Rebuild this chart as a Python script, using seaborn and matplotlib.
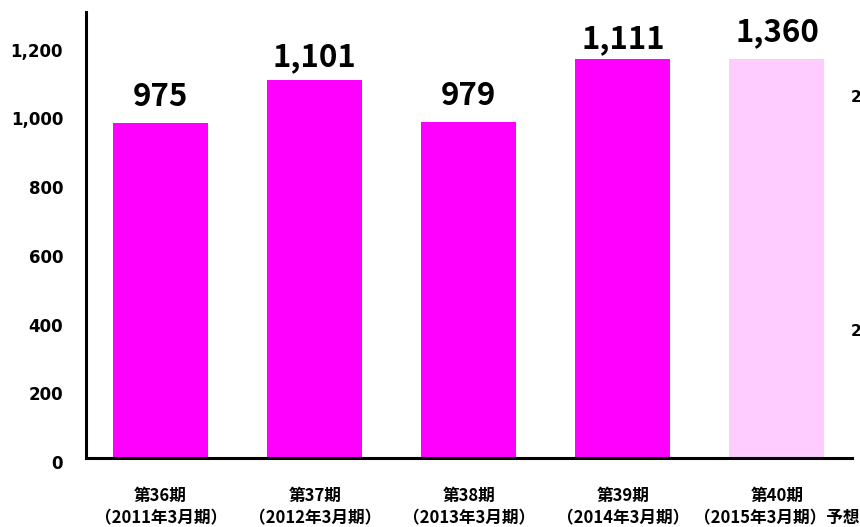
import matplotlib
matplotlib.use("Agg")
import matplotlib.pyplot as plt
import matplotlib.transforms as mtransforms
import seaborn as sns
import pandas as pd

# ---- data ----
periods = ["第36期", "第37期", "第38期", "第39期", "第40期"]
fiscal = ["（2011年3月期）", "（2012年3月期）", "（2013年3月期）", "（2014年3月期）", "（2015年3月期）予想"]
label_values = [975, 1101, 979, 1111, 1360]
bar_heights = [975, 1101, 979, 1161, 1161]   # heights as drawn in the picture
y_ticks = [0, 200, 400, 600, 800, 1000, 1200]

colors = ["#FF00FF", "#FF00FF", "#FF00FF", "#FF00FF", "#FFCCFF"]
label_offsets_px = [10, 7, 10, 4, 11]

sns.set_theme(style="white")
plt.rcParams["font.family"] = ["Noto Sans CJK JP", "DejaVu Sans"]

cats = [p + "\n" + f for p, f in zip(periods, fiscal)]
df = pd.DataFrame({"cat": cats, "h": bar_heights})

fig = plt.figure(figsize=(8.6, 5.27), dpi=100)
ax = fig.add_axes([86/860, 69/527, (852-86)/860, (458-12)/527])

sns.barplot(data=df, x="cat", y="h", hue="cat", palette=colors, legend=False,
            width=0.617, saturation=1, ax=ax, linewidth=0)

ax.set_xlim(-0.484, 4.487)
ax.set_ylim(0, 1298)
ax.set_xlabel("")
ax.set_ylabel("")

# value labels
for i, (h, v) in enumerate(zip(bar_heights, label_values)):
    ax.annotate(f"{v:,}", xy=(i, h), xytext=(0, label_offsets_px[i] * 72 / 100),
                textcoords="offset points", ha="center", va="bottom",
                fontsize=22.5, fontweight="bold", family="Noto Sans CJK JP",
                color="black")

# axes styling
for s in ["top", "right"]:
    ax.spines[s].set_visible(False)
for s in ["left", "bottom"]:
    ax.spines[s].set_color("black")
    ax.spines[s].set_linewidth(2.2)

ax.set_yticks(y_ticks)
ax.set_yticklabels([f"{t:,}" for t in y_ticks], fontsize=12, fontweight="bold",
                   family="DejaVu Sans", color="black")
ax.tick_params(axis="y", length=0, pad=16.5)
ax.tick_params(axis="x", length=0, pad=21)
ax.set_xticks(range(len(cats)))
ax.set_xticklabels(cats, fontsize=12, fontweight="bold", family="Noto Sans CJK JP",
                   color="black", linespacing=1.3)

off = mtransforms.ScaledTranslation(0, -4/100, fig.dpi_scale_trans)
for lab in ax.get_yticklabels():
    lab.set_transform(lab.get_transform() + off)

# partially cut-off text at right edge (as in the reference)
for yy in [97, 331]:
    fig.text(851/860, 1 - yy/527, "2", ha="left", va="center", fontsize=11,
             fontweight="bold", family="DejaVu Sans", color="black")

fig.savefig("out.png", dpi=100)
